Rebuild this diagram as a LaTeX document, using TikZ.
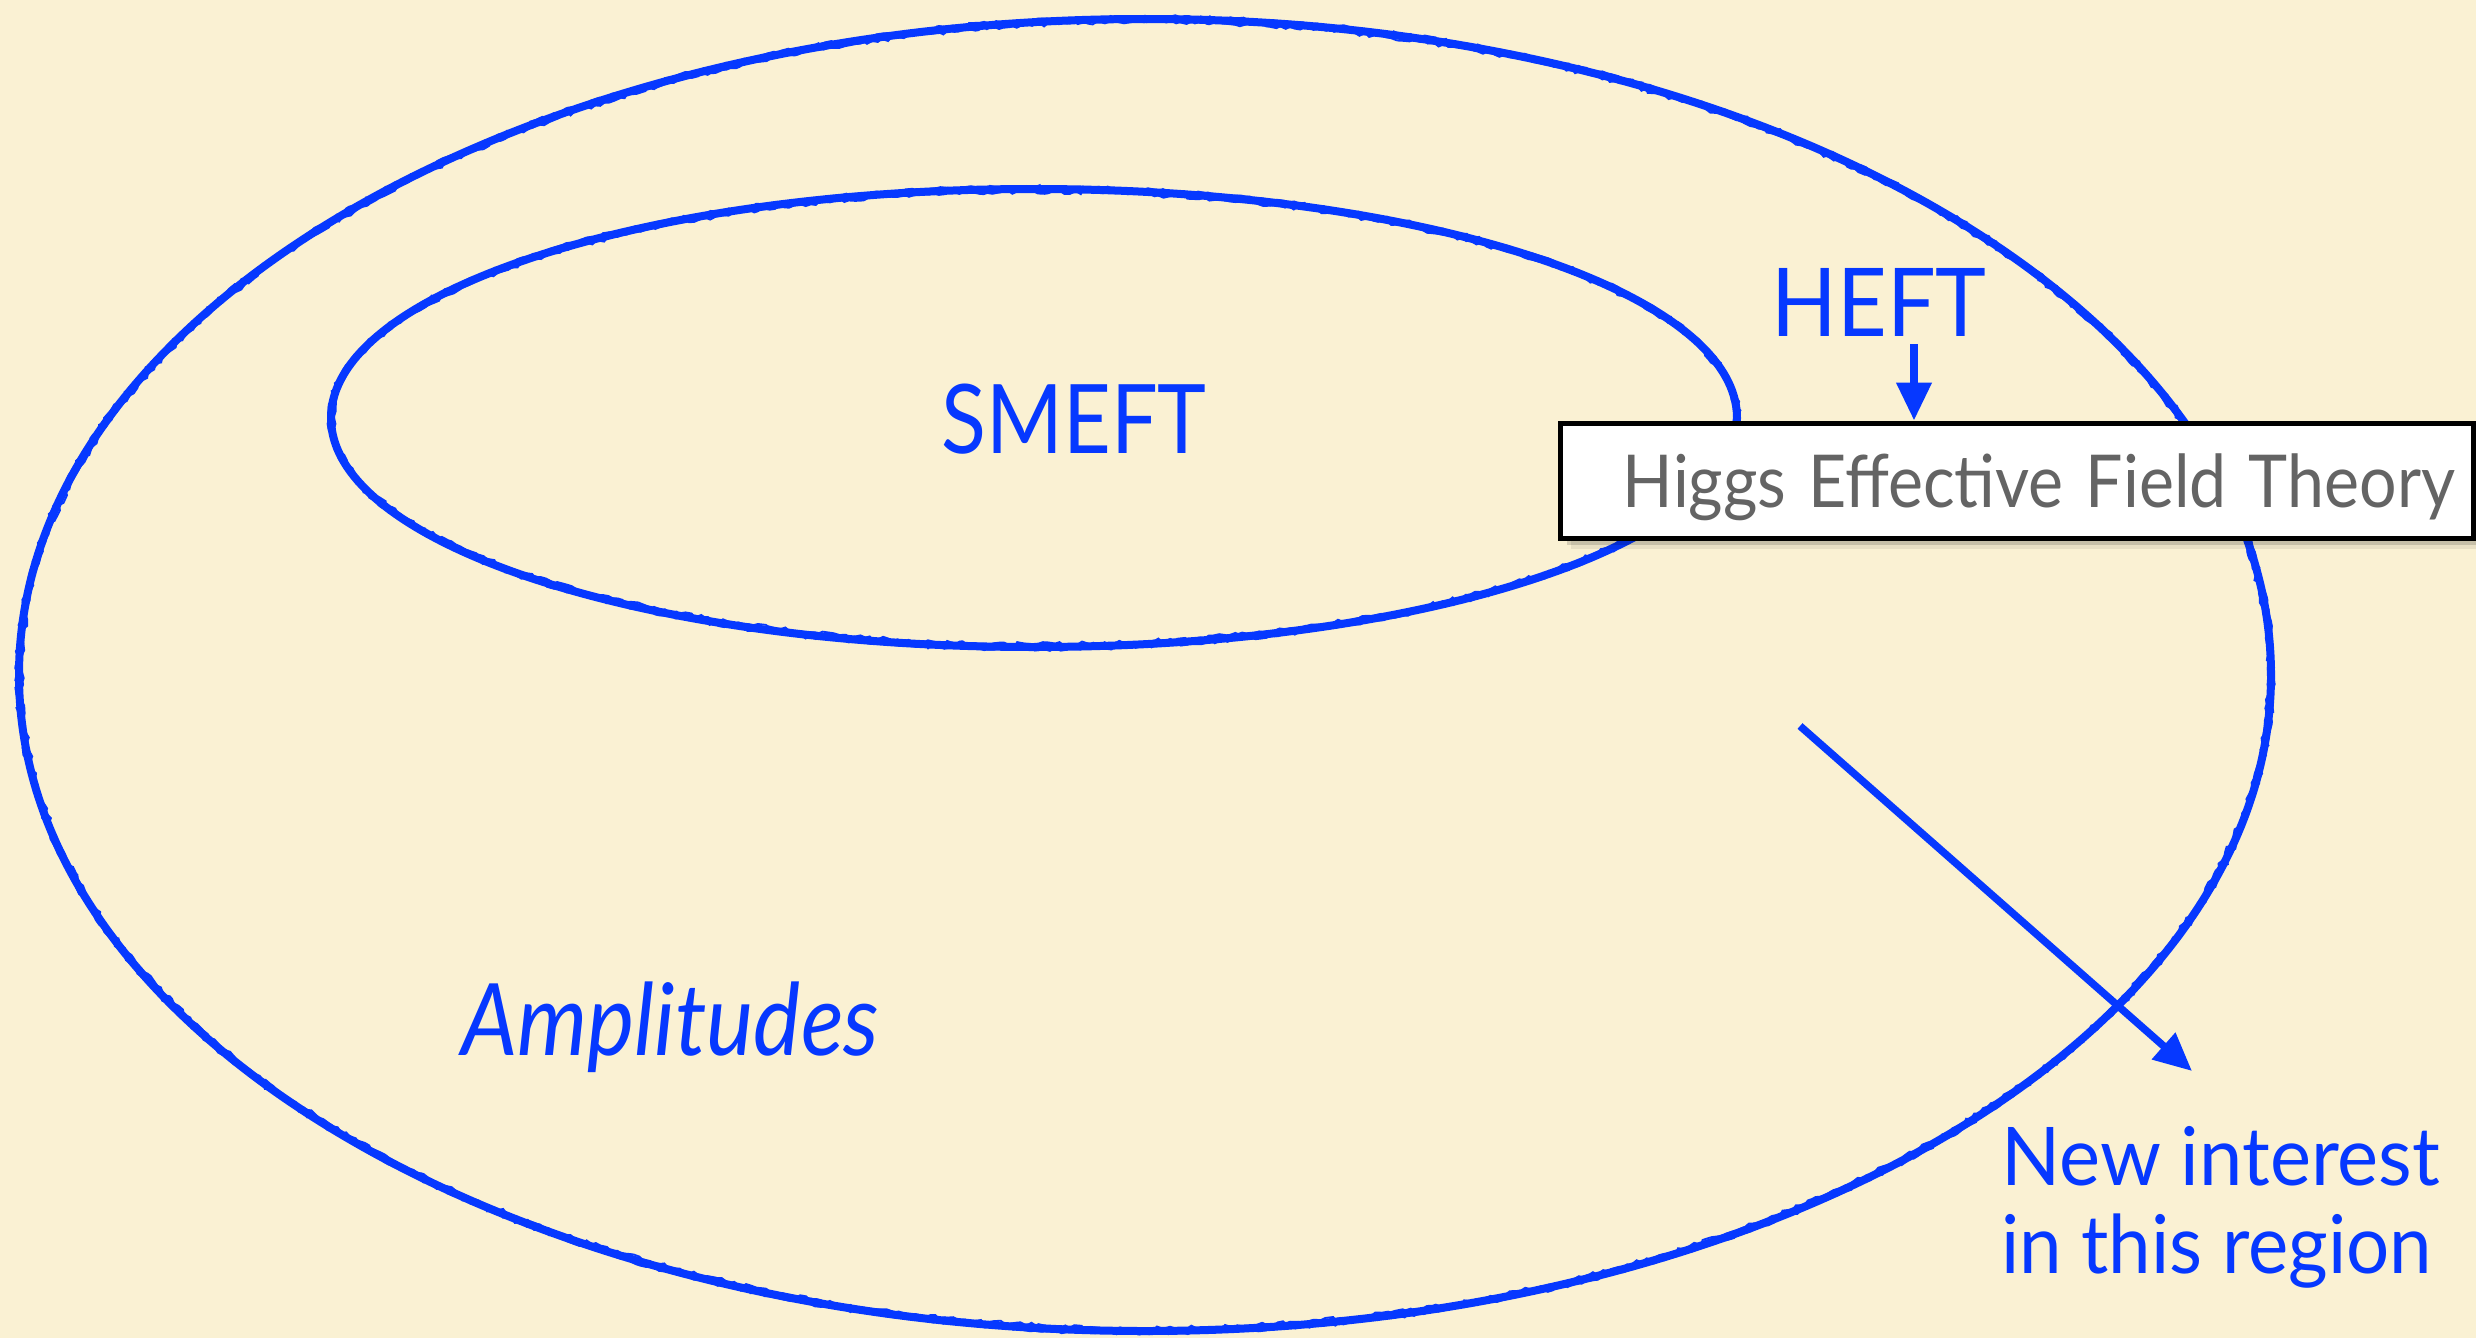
\documentclass[tikz,border=0pt]{standalone}
\usepackage{fontspec}
\usepackage{graphicx}
\setmainfont{Lato}
\usetikzlibrary{arrows.meta,shadows,decorations.pathmorphing}
\definecolor{paper}{RGB}{250,241,211}
\definecolor{chalkblue}{RGB}{6,56,255}
\definecolor{labelgray}{RGB}{100,100,100}
% set a label to a given printed width, keeping its height
\newcommand{\fitto}[2]{\resizebox{#1}{\height}{#2}}
\begin{document}
\begin{tikzpicture}[x=1pt,y=-1pt,
  chalk/.style={draw=chalkblue,line width=8pt},
  chalkfuzz/.style={draw=chalkblue,line width=1.8pt,decorate,
    decoration={random steps,segment length=5pt,amplitude=2pt}},
  bluelabel/.style={text=chalkblue,inner sep=0pt},
  pointer/.style={draw=chalkblue,line width=7.5pt,
    -{Triangle[length=38pt,width=34pt]}},
  higgsbox/.style={draw=black,line width=5pt,fill=white,
    drop shadow={shadow xshift=3pt,shadow yshift=-3pt,fill=black,opacity=0.22},
    drop shadow={shadow xshift=7pt,shadow yshift=-7pt,fill=black,opacity=0.14},
    drop shadow={shadow xshift=11pt,shadow yshift=-11pt,fill=black,opacity=0.07},
    minimum width=913pt,minimum height=115pt,
    text width=877pt,inner xsep=18pt,align=right,
    text height=60pt,text depth=7pt,text=labelgray}]
  \pgfmathsetseed{12}
  % paper background and page frame
  \fill[paper] (0,0) rectangle (2476,1338);
  \useasboundingbox (0,0) rectangle (2476,1338);

  % outer region: amplitudes
  \draw[chalk] (1145,675) ellipse [x radius=1126,y radius=656];
  \draw[chalkfuzz] (1145,675) ellipse [x radius=1128,y radius=658];
  \draw[chalkfuzz] (1145,675) ellipse [x radius=1123,y radius=653];
  % inner region: SMEFT
  \draw[chalk] (1034,418) ellipse [x radius=703,y radius=229];
  \draw[chalkfuzz] (1034,418) ellipse [x radius=705,y radius=231];
  \draw[chalkfuzz] (1034,418) ellipse [x radius=700,y radius=226];

  % labels
  \node[bluelabel,anchor=base,font=\fontsize{96}{110}\selectfont] (smeft) at (1074,453) {\fitto{265pt}{SMEFT}};
  \node[bluelabel,anchor=base,font=\fontsize{95}{110}\selectfont] (heft) at (1879,336) {\fitto{215pt}{HEFT}};
  \node[bluelabel,anchor=base west,font=\fontsize{100}{110}\itshape] (ampl) at (461,1055) {\fitto{418pt}{Amplitudes}};
  \node[bluelabel,anchor=base west,align=left,font=\fontsize{81}{88}\selectfont] (newint) at (2001,1273)
    {\fitto{439pt}{New interest}\\\fitto{431pt}{in this region}};

  % expansion box for HEFT
  \node[higgsbox,font=\fontsize{73}{80}\selectfont] (box) at (2016.5,480.5)
    {\fitto{832pt}{Higgs Effective Field Theory}};

  % connectors
  \coordinate (heftfoot) at (1914,344);
  \draw[pointer] (heftfoot) -- (heftfoot |- box.north);
  \coordinate (regionstart) at (1800,726);
  \coordinate (regiontip) at (2192,1071);
  \draw[pointer] (regionstart) -- (regiontip);
\end{tikzpicture}
\end{document}
